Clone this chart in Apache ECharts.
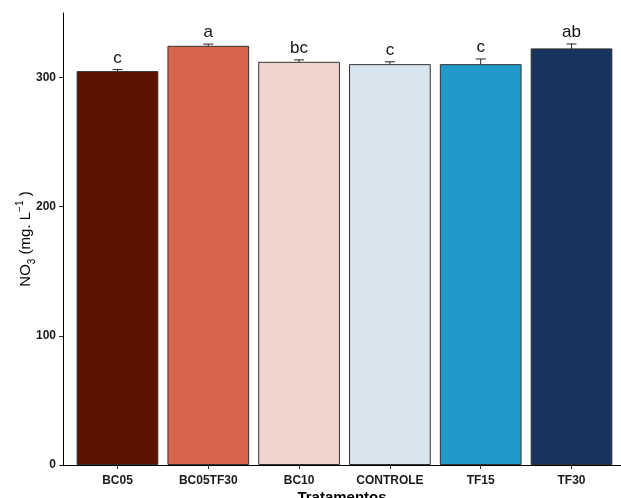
<!DOCTYPE html>
<html>
<head>
<meta charset="utf-8">
<script src="https://cdn.jsdelivr.net/npm/echarts@6/dist/echarts.min.js"></script>
<style>html,body{margin:0;padding:0;background:#fff;}#c{width:621px;height:498px;}</style>
</head>
<body>
<div id="c"></div>
<script>
const categories = ['BC05', 'BC05TF30', 'BC10', 'CONTROLE', 'TF15', 'TF30'];
const means = [305.0, 324.6, 312.2, 310.4, 310.4, 322.6];
const errors = [1.2, 1.3, 1.5, 1.8, 4.0, 3.4];
const letters = ['c', 'a', 'bc', 'c', 'c', 'ab'];
const barColors = ['#5B1300', '#D6654B', '#F0D3CC', '#D8E4EE', '#2299C8', '#17335E'];
const yTicks = [0, 100, 200, 300];
const xPositions = categories.map((c, i) => i + 1);

const chart = echarts.init(document.getElementById('c'), null, {renderer: 'canvas'});
const FONT = '"Liberation Sans", Arial, sans-serif';

chart.setOption({
  animation: false,
  backgroundColor: '#ffffff',
  grid: {left: 63, right: 0, top: 13, bottom: 33, containLabel: false, outerBoundsMode: 'none'},
  xAxis: {
    type: 'value',
    min: 0.4,
    max: 6.545,
    name: 'Tratamentos',
    nameLocation: 'middle',
    nameGap: 25,
    nameMoveOverlap: false,
    nameTextStyle: {fontFamily: FONT, fontWeight: 'bold', fontSize: 15, color: '#000'},
    splitLine: {show: false},
    axisLine: {show: true, lineStyle: {color: '#000', width: 1}},
    axisTick: {show: true, length: 4, customValues: xPositions, lineStyle: {color: '#333'}},
    axisLabel: {
      customValues: xPositions,
      margin: 10,
      fontFamily: FONT, fontWeight: 'bold', fontSize: 12, color: '#1a1a1a',
      formatter: v => categories[Math.round(v) - 1] || ''
    }
  },
  yAxis: {
    type: 'value',
    min: 0,
    max: 350,
    name: '{n|NO}{sub|3}{n| (mg. L}{sup|−1}{n| )}',
    nameLocation: 'middle',
    nameGap: 26,
    nameMoveOverlap: false,
    nameRotate: 90,
    nameTextStyle: {
      fontFamily: FONT, fontSize: 15, color: '#000',
      rich: {
        n: {fontFamily: FONT, fontSize: 15, color: '#000', lineHeight: 22, verticalAlign: 'middle'},
        sub: {fontFamily: FONT, fontSize: 10, color: '#000', lineHeight: 22, verticalAlign: 'bottom'},
        sup: {fontFamily: FONT, fontSize: 10, color: '#000', lineHeight: 22, verticalAlign: 'top'}
      }
    },
    splitLine: {show: false},
    axisLine: {show: true, lineStyle: {color: '#000', width: 1}},
    axisTick: {show: true, length: 4, customValues: yTicks, lineStyle: {color: '#333'}},
    axisLabel: {
      customValues: yTicks,
      margin: 7,
      fontFamily: FONT, fontWeight: 'bold', fontSize: 12, color: '#1a1a1a'
    }
  },
  series: [
    {
      type: 'custom',
      z: 1,
      data: means.map((m, i) => [xPositions[i], m, errors[i]]),
      renderItem: function (params, api) {
        const x = api.value(0), m = api.value(1), e = api.value(2);
        const top = api.coord([x, m + e]);
        const bot = api.coord([x, m - e]);
        const half = api.size([0.055, 0])[0];
        const st = {stroke: '#222', lineWidth: 1};
        return {
          type: 'group',
          children: [
            {type: 'line', shape: {x1: top[0], y1: top[1], x2: bot[0], y2: bot[1]}, style: st},
            {type: 'line', shape: {x1: top[0] - half, y1: top[1], x2: top[0] + half, y2: top[1]}, style: st},
            {type: 'line', shape: {x1: bot[0] - half, y1: bot[1], x2: bot[0] + half, y2: bot[1]}, style: st}
          ]
        };
      }
    },
    {
      type: 'bar',
      z: 2,
      barWidth: '90%',
      data: means.map((m, i) => ({value: [xPositions[i], m], itemStyle: {color: barColors[i]}})),
      itemStyle: {borderColor: '#333', borderWidth: 1}
    },
    {
      type: 'custom',
      z: 3,
      data: means.map((m, i) => [xPositions[i], m, errors[i]]),
      renderItem: function (params, api) {
        const x = api.value(0), m = api.value(1), e = api.value(2);
        const top = api.coord([x, m + e]);
        return {
          type: 'text',
          style: {
            x: top[0], y: top[1] - 3,
            text: letters[params.dataIndex],
            fontFamily: FONT, fontSize: 17, fill: '#111',
            align: 'center', verticalAlign: 'bottom'
          }
        };
      }
    }
  ]
});
</script>
</body>
</html>
